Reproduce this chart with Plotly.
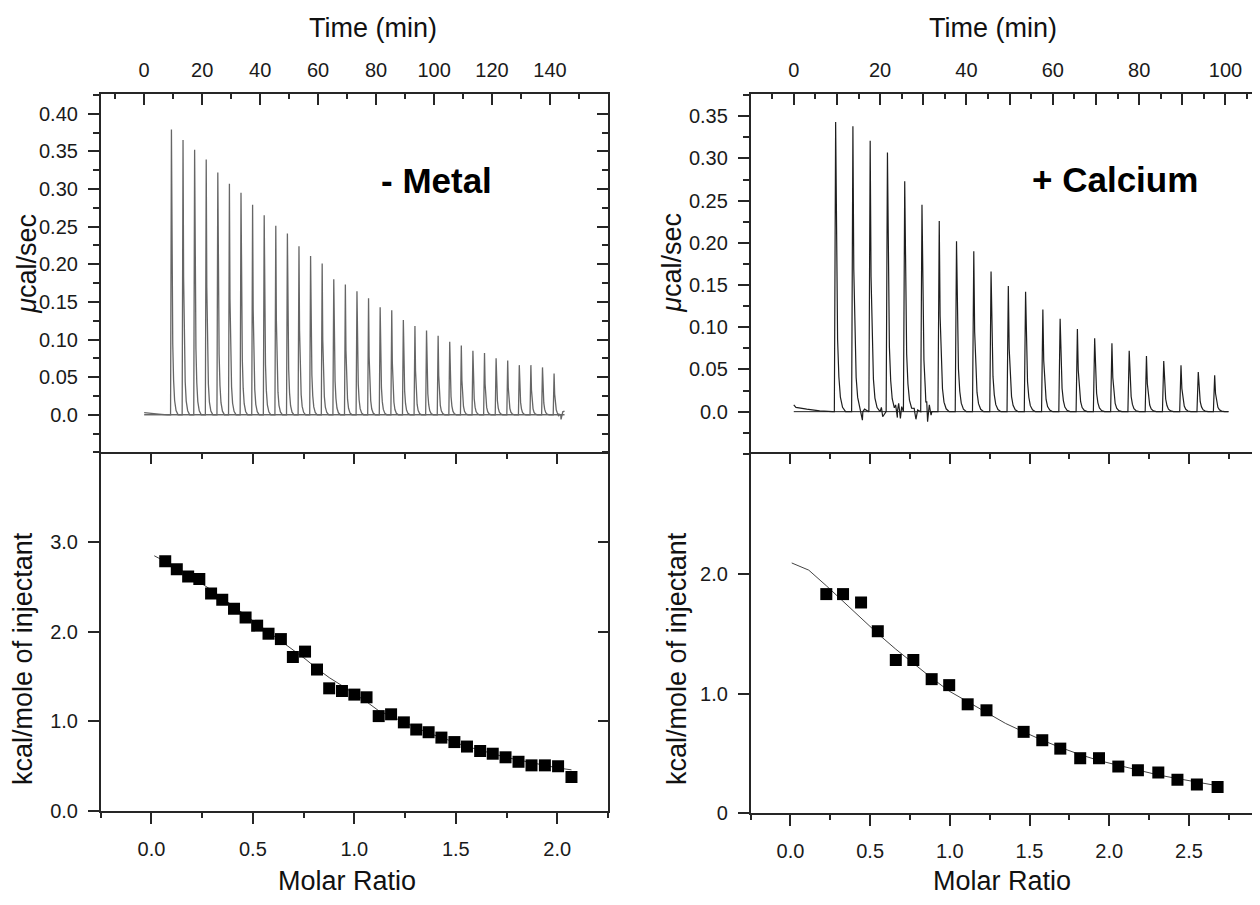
import plotly.graph_objects as go

# the page body keeps an 8px margin, so the figure starts 8px in from the corner;
# every position below is given in screenshot pixels and shifted by that margin
PAGE_OFF = 8
W, H = 1260 - PAGE_OFF, 905 - PAGE_OFF

# ---------------- raw ITC traces ----------------
# injection times (min) and peak heights (ucal/sec)
metal_inj_time = [9.4, 13.4, 17.4, 21.4, 25.4, 29.4, 33.4, 37.4, 41.4, 45.4, 49.4, 53.4,
                  57.4, 61.4, 65.4, 69.4, 73.4, 77.4, 81.4, 85.4, 89.4, 93.4, 97.4, 101.4,
                  105.4, 109.4, 113.4, 117.4, 121.4, 125.4, 129.4, 133.4, 137.4, 141.4]
metal_peak = [0.379, 0.365, 0.352, 0.339, 0.322, 0.307, 0.295, 0.279, 0.265, 0.251, 0.241, 0.224,
              0.211, 0.201, 0.180, 0.173, 0.164, 0.155, 0.143, 0.139, 0.126, 0.118, 0.112, 0.105,
              0.097, 0.092, 0.085, 0.082, 0.075, 0.072, 0.066, 0.066, 0.063, 0.055]
metal_base_t = [0.0, 2.0, 5.0, 8.0, 143.0, 143.8, 144.4, 145.0]
metal_base_y = [0.003, 0.002, 0.001, 0.0, -0.002, -0.006, 0.004, 0.005]
metal_run = [0.0, 145.0]

ca_inj_time = [9.7, 13.7, 17.7, 21.7, 25.7, 29.7, 33.7, 37.7, 41.7, 45.7, 49.7, 53.7,
               57.7, 61.7, 65.7, 69.7, 73.7, 77.7, 81.7, 85.7, 89.7, 93.7, 97.5]
ca_peak = [0.343, 0.338, 0.321, 0.307, 0.273, 0.245, 0.226, 0.202, 0.190, 0.166, 0.149, 0.142,
           0.121, 0.110, 0.098, 0.087, 0.081, 0.072, 0.066, 0.060, 0.055, 0.047, 0.043]
ca_base_t = [0.0, 0.5, 3.0, 6.0, 9.0, 100.7]
ca_base_y = [0.008, 0.005, 0.003, 0.001, 0.0, 0.0]
ca_noise_t = [15.4, 15.9, 16.4, 20.3, 20.6, 23.6, 24.0, 24.3, 24.7, 25.0, 27.9, 28.3, 28.7,
              30.6, 31.0, 31.4, 31.8]
ca_noise_y = [0.004, -0.010, 0.003, 0.005, -0.006, 0.008, -0.007, 0.010, -0.008, 0.006, 0.004,
              -0.009, 0.002, 0.011, -0.012, 0.008, -0.004]
ca_run = [0.0, 100.7]

# shape of one injection peak: minutes after injection, fraction of peak height
peak_shape_t = [-0.3, 0.0, 0.2, 0.45, 0.75, 1.1, 1.6, 2.3]
peak_shape_f = [0.0, 1.0, 0.5, 0.25, 0.12, 0.05, 0.015, 0.0]

# ---------------- integrated heats ----------------
metal_ratio = [0.068, 0.125, 0.181, 0.236, 0.294, 0.349, 0.407, 0.464, 0.521, 0.577, 0.638, 0.697,
               0.757, 0.816, 0.876, 0.939, 1.000, 1.060, 1.120, 1.181, 1.244, 1.305, 1.366, 1.429,
               1.493, 1.555, 1.620, 1.682, 1.745, 1.809, 1.873, 1.939, 2.004, 2.070]
metal_heat = [2.79, 2.70, 2.62, 2.59, 2.43, 2.36, 2.26, 2.16, 2.07, 1.98, 1.92, 1.72,
              1.78, 1.58, 1.37, 1.34, 1.30, 1.27, 1.06, 1.08, 0.99, 0.91, 0.88, 0.82,
              0.77, 0.72, 0.67, 0.64, 0.60, 0.55, 0.51, 0.51, 0.50, 0.38]
metal_fit_ratio = [0.014, 0.068, 0.125, 0.181, 0.236, 0.294, 0.349, 0.407, 0.464, 0.521, 0.577,
                   0.638, 0.697, 0.757, 0.816, 0.876, 0.939, 1.000, 1.060, 1.120, 1.181, 1.244,
                   1.305, 1.366, 1.429, 1.493, 1.555, 1.620, 1.682, 1.745, 1.809, 1.873, 1.939,
                   2.004, 2.070]
metal_fit_heat = [2.85, 2.79, 2.72, 2.64, 2.56, 2.47, 2.38, 2.28, 2.19, 2.09, 2.00,
                  1.90, 1.80, 1.70, 1.59, 1.49, 1.40, 1.31, 1.22, 1.12, 1.06, 0.99,
                  0.93, 0.87, 0.82, 0.77, 0.72, 0.68, 0.64, 0.60, 0.57, 0.54, 0.51,
                  0.48, 0.46]

ca_ratio = [0.225, 0.330, 0.443, 0.548, 0.661, 0.771, 0.886, 0.996, 1.112, 1.230, 1.463,
            1.580, 1.693, 1.818, 1.936, 2.057, 2.180, 2.308, 2.428, 2.550, 2.680]
ca_heat = [1.83, 1.83, 1.76, 1.52, 1.28, 1.28, 1.12, 1.07, 0.91, 0.86, 0.68,
           0.61, 0.54, 0.46, 0.46, 0.39, 0.36, 0.34, 0.28, 0.24, 0.22]
ca_fit_ratio = [0.008, 0.115, 0.225, 0.330, 0.443, 0.548, 0.661, 0.771, 0.886, 0.996, 1.112,
                1.230, 1.350, 1.463, 1.580, 1.693, 1.818, 1.936, 2.057, 2.180, 2.308, 2.428,
                2.550, 2.680]
ca_fit_heat = [2.09, 2.03, 1.90, 1.77, 1.63, 1.50, 1.37, 1.25, 1.13, 1.02, 0.93,
               0.84, 0.75, 0.68, 0.61, 0.55, 0.49, 0.44, 0.40, 0.36, 0.32, 0.29,
               0.26, 0.23]

# tick labels
metal_time_ticks = [0, 20, 40, 60, 80, 100, 120, 140]
ca_time_ticks = [0, 10, 20, 30, 40, 50, 60, 70, 80, 90, 100]
ca_time_text = ['0', '', '20', '', '40', '', '60', '', '80', '', '100']
metal_power_ticks = [0, 0.05, 0.10, 0.15, 0.20, 0.25, 0.30, 0.35, 0.40]
metal_power_text = ['0.0', '0.05', '0.10', '0.15', '0.20', '0.25', '0.30', '0.35', '0.40']
ca_power_ticks = [0, 0.05, 0.10, 0.15, 0.20, 0.25, 0.30, 0.35]
ca_power_text = ['0.0', '0.05', '0.10', '0.15', '0.20', '0.25', '0.30', '0.35']
metal_heat_ticks = [0, 1, 2, 3]
metal_heat_text = ['0.0', '1.0', '2.0', '3.0']
ca_heat_ticks = [0, 1, 2]
ca_heat_text = ['0', '1.0', '2.0']
metal_ratio_ticks = [0, 0.5, 1.0, 1.5, 2.0]
metal_ratio_text = ['0.0', '0.5', '1.0', '1.5', '2.0']
ca_ratio_ticks = [0, 0.5, 1.0, 1.5, 2.0, 2.5]
ca_ratio_text = ['0.0', '0.5', '1.0', '1.5', '2.0', '2.5']


def build_trace(inj_time, peak, base_t, base_y, noise_t=(), noise_y=()):
    # gather baseline, noise and peak points, then put them in time order
    pts = list(zip(base_t, base_y)) + list(zip(noise_t, noise_y))
    for t0, h in zip(inj_time, peak):
        for dt, f in zip(peak_shape_t, peak_shape_f):
            pts.append((t0 + dt, h * f))
    pts.sort(key=lambda p: p[0])
    return [p[0] for p in pts], [p[1] for p in pts]


# screenshot pixels -> paper units
def px_x(x):
    return (x - PAGE_OFF) / W


def px_y(y):
    return 1 - (y - PAGE_OFF) / H


FONT = 'Liberation Sans, Arial, Helvetica, sans-serif'
AX = '#262626'
LX = [px_x(100.7), px_x(608)]
RX = [px_x(750.6), 1.0]
TOP = [px_y(459.5), px_y(95.5)]
BOT_L = [px_y(821), px_y(459.5)]
BOT_R = [px_y(823.3), px_y(459.5)]

fig = go.Figure()

mt, my = build_trace(metal_inj_time, metal_peak, metal_base_t, metal_base_y)
fig.add_trace(go.Scatter(x=metal_run, y=[0, 0], mode='lines', line=dict(color='#222', width=1),
                         xaxis='x', yaxis='y', showlegend=False))
fig.add_trace(go.Scatter(x=mt, y=my, mode='lines', line=dict(color='#666', width=1.3),
                         xaxis='x', yaxis='y', showlegend=False))

ct, cy = build_trace(ca_inj_time, ca_peak, ca_base_t, ca_base_y, ca_noise_t, ca_noise_y)
fig.add_trace(go.Scatter(x=ca_run, y=[0, 0], mode='lines', line=dict(color='#222', width=1),
                         xaxis='x4', yaxis='y5', showlegend=False))
fig.add_trace(go.Scatter(x=ct, y=cy, mode='lines', line=dict(color='#1e1e1e', width=1.2),
                         xaxis='x4', yaxis='y5', showlegend=False))

# integrated heats + fits
fig.add_trace(go.Scatter(x=metal_fit_ratio, y=metal_fit_heat, mode='lines',
                         line=dict(color='#444', width=1), xaxis='x2', yaxis='y3', showlegend=False))
fig.add_trace(go.Scatter(x=metal_ratio, y=metal_heat, mode='markers',
                         marker=dict(symbol='square', size=12, color='black'),
                         xaxis='x2', yaxis='y3', showlegend=False))
fig.add_trace(go.Scatter(x=ca_fit_ratio, y=ca_fit_heat, mode='lines',
                         line=dict(color='#444', width=1), xaxis='x5', yaxis='y7', showlegend=False))
fig.add_trace(go.Scatter(x=ca_ratio, y=ca_heat, mode='markers',
                         marker=dict(symbol='square', size=12, color='black'),
                         xaxis='x5', yaxis='y7', showlegend=False))

# invisible copies so the twin (tick-only) axes get drawn
for xs, ys, xa, ya in [(metal_inj_time, metal_peak, 'x', 'y2'),
                       (metal_ratio, metal_heat, 'x3', 'y3'),
                       (metal_ratio, metal_heat, 'x2', 'y4'),
                       (ca_inj_time, ca_peak, 'x4', 'y6'),
                       (ca_ratio, ca_heat, 'x6', 'y7'),
                       (ca_ratio, ca_heat, 'x5', 'y8')]:
    fig.add_trace(go.Scatter(x=xs, y=ys, mode='markers', marker=dict(opacity=0),
                             hoverinfo='skip', xaxis=xa, yaxis=ya, showlegend=False))

tickfont = dict(family=FONT, size=20, color='#1a1a1a')
common = dict(showgrid=False, zeroline=False, linecolor=AX, linewidth=1.5, tickcolor=AX,
              tickwidth=1.5, tickfont=tickfont)


def main_axis(**kw):
    d = dict(common)
    d.update(showline=True, tickmode='array')
    d.update(kw)
    return d


def twin_axis(**kw):
    d = dict(common)
    d.update(showline=False, showticklabels=False, tickmode='array', ticks='inside')
    d.update(kw)
    return d


def minor(step, side, length):
    return dict(dtick=step, tick0=0, ticks=side, ticklen=length, tickcolor=AX, tickwidth=1.5)


fig.update_layout(
    width=W, height=H, margin=dict(l=0, r=0, t=0, b=0), autosize=False,
    paper_bgcolor='white', plot_bgcolor='white',
    # ---- top left: time / ucal/sec ----
    xaxis=main_axis(domain=LX, anchor='y', side='top', range=[-15, 160], mirror=False,
                    tickvals=metal_time_ticks, ticks='inside', ticklen=11,
                    minor=minor(10, 'inside', 5), ticklabelstandoff=8),
    yaxis=main_axis(domain=TOP, anchor='x', range=[-0.052, 0.4256], mirror=True,
                    tickvals=metal_power_ticks, ticktext=metal_power_text, ticks='outside', ticklen=11,
                    minor=minor(0.025, 'outside', 6), ticklabelstandoff=6),
    yaxis2=twin_axis(overlaying='y', side='right', anchor='x', range=[-0.052, 0.4256],
                     tickvals=metal_power_ticks, ticklen=11, minor=minor(0.025, 'inside', 6)),
    # ---- bottom left: molar ratio / kcal ----
    xaxis2=main_axis(domain=LX, anchor='y3', range=[-0.25, 2.25], mirror=True,
                     tickvals=metal_ratio_ticks, ticktext=metal_ratio_text, ticks='outside', ticklen=11,
                     minor=minor(0.25, 'outside', 5), ticklabelstandoff=8),
    xaxis3=twin_axis(overlaying='x2', side='top', anchor='y3', range=[-0.25, 2.25],
                     tickvals=metal_ratio_ticks, ticklen=10, minor=minor(0.25, 'inside', 5)),
    yaxis3=main_axis(domain=BOT_L, anchor='x2', range=[0, 3.987], mirror=True,
                     tickvals=metal_heat_ticks, ticktext=metal_heat_text, ticks='outside', ticklen=11,
                     ticklabelstandoff=6),
    yaxis4=twin_axis(overlaying='y3', side='right', anchor='x2', range=[0, 3.987],
                     tickvals=metal_heat_ticks, ticklen=10),
    # ---- top right: time / ucal/sec ----
    xaxis4=main_axis(domain=RX, anchor='y5', side='top', range=[-10, 108.0], mirror=False,
                     tickvals=ca_time_ticks, ticktext=ca_time_text, ticks='inside', ticklen=11,
                     minor=minor(5, 'inside', 5), ticklabelstandoff=8),
    yaxis5=main_axis(domain=TOP, anchor='x4', range=[-0.0501, 0.3758], mirror=False,
                     tickvals=ca_power_ticks, ticktext=ca_power_text, ticks='outside', ticklen=11,
                     minor=minor(0.025, 'outside', 6), ticklabelstandoff=6),
    yaxis6=twin_axis(overlaying='y5', side='right', anchor='x4', range=[-0.0501, 0.3758],
                     tickvals=ca_power_ticks, ticklen=3),
    # ---- bottom right: molar ratio / kcal ----
    xaxis5=main_axis(domain=RX, anchor='y7', range=[-0.25, 2.946], mirror=True,
                     tickvals=ca_ratio_ticks, ticktext=ca_ratio_text, ticks='outside', ticklen=11,
                     minor=minor(0.25, 'outside', 5), ticklabelstandoff=8),
    xaxis6=twin_axis(overlaying='x5', side='top', anchor='y7', range=[-0.25, 2.946],
                     tickvals=ca_ratio_ticks, ticklen=10, minor=minor(0.25, 'inside', 5)),
    yaxis7=main_axis(domain=BOT_R, anchor='x5', range=[0, 3.0], mirror=False,
                     tickvals=ca_heat_ticks, ticktext=ca_heat_text, ticks='outside', ticklen=11,
                     ticklabelstandoff=6),
    yaxis8=twin_axis(overlaying='y7', side='right', anchor='x5', range=[0, 3.0],
                     tickvals=[1, 2], ticklen=3),
)

title_font = dict(family=FONT, size=27, color='#111')
label_font = dict(family=FONT, size=35, color='black')
notes = [
    ('Time (min)', 373, 28, 0, title_font),
    ('Time (min)', 993, 28, 0, title_font),
    ('<i>μ</i>cal/sec', 27, 267, -90, title_font),
    ('<i>μ</i>cal/sec', 672, 266, -90, title_font),
    ('kcal/mole of injectant', 23, 667, -90, title_font),
    ('kcal/mole of injectant', 677, 667, -90, title_font),
    ('Molar Ratio', 347, 892, 0, title_font),
    ('Molar Ratio', 1002, 892, 0, title_font),
    ('<b>- Metal</b>', 436, 183, 0, label_font),
    ('<b>+ Calcium</b>', 1115, 182, 0, label_font),
]
for text, x, y, ang, f in notes:
    fig.add_annotation(text=text, x=px_x(x), y=px_y(y), xref='paper', yref='paper',
                       xanchor='center', yanchor='middle', showarrow=False, textangle=ang, font=f)

fig.write_html("out.html")
